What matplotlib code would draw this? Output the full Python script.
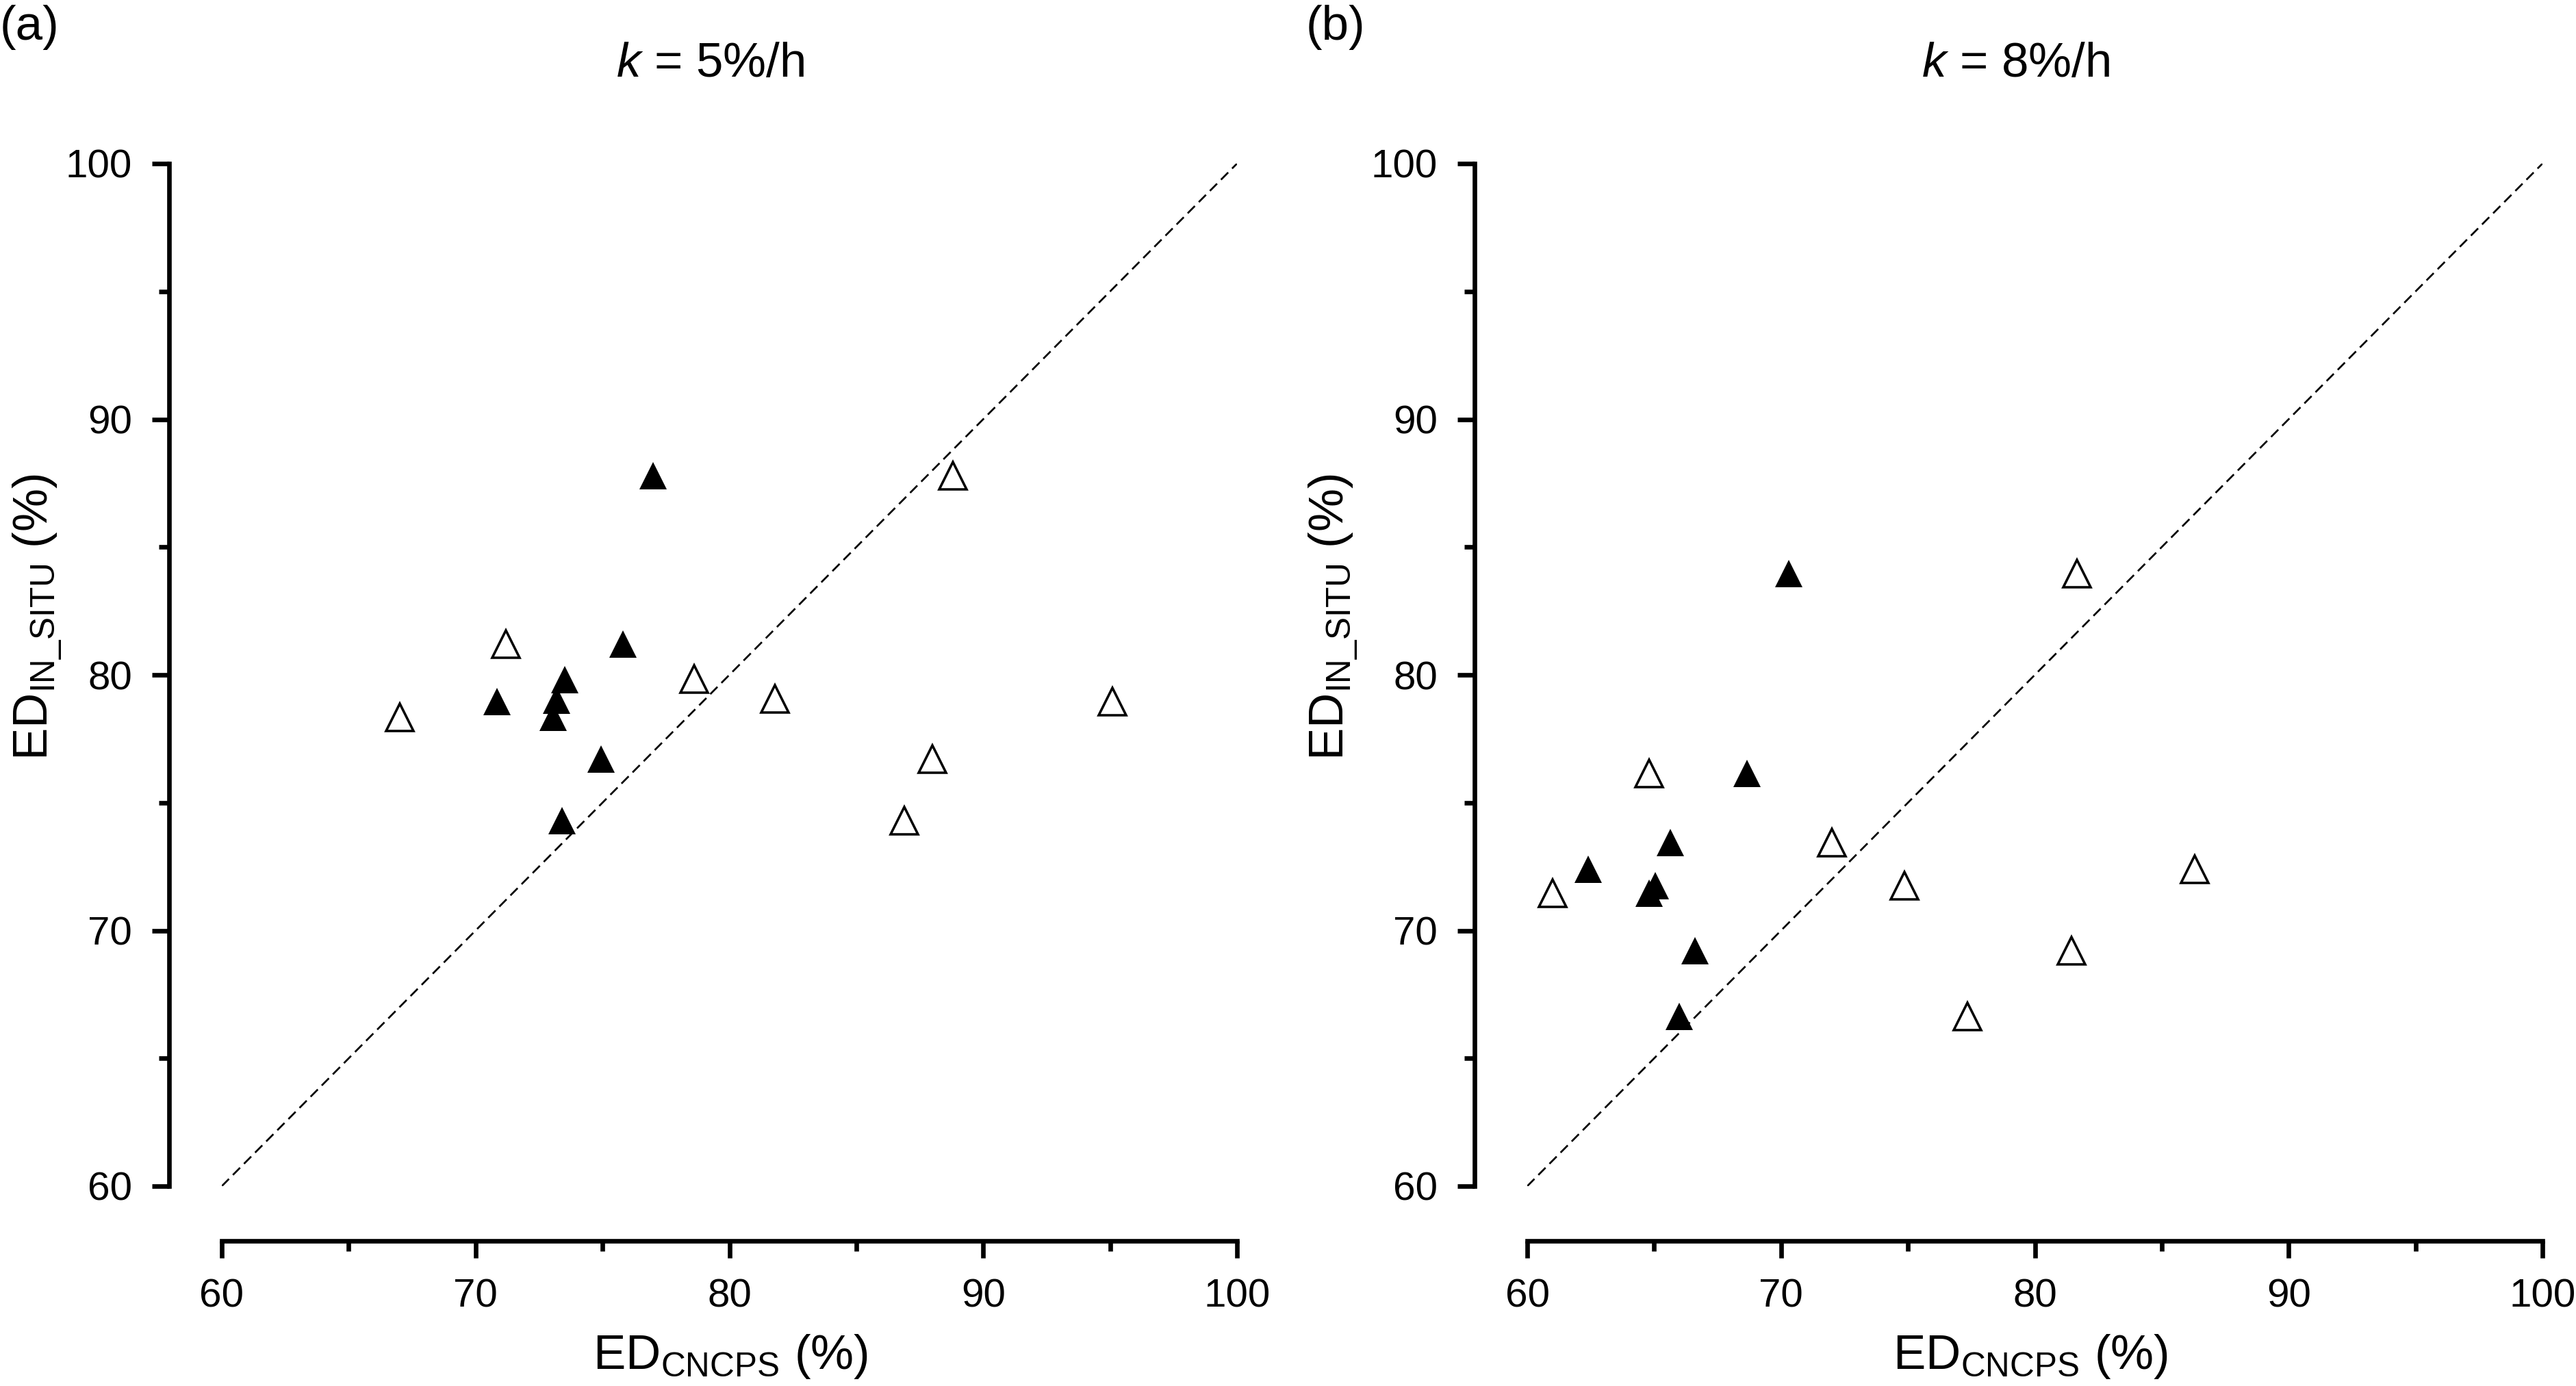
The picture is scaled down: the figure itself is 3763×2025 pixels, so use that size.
import matplotlib
matplotlib.use("Agg")
import matplotlib.pyplot as plt
from matplotlib.ticker import MultipleLocator

plt.rcParams['font.family'] = ['Liberation Sans', 'DejaVu Sans']
plt.rcParams['mathtext.fontset'] = 'custom'
plt.rcParams['mathtext.rm'] = 'Liberation Sans'
plt.rcParams['mathtext.it'] = 'Liberation Sans:italic'
plt.rcParams['mathtext.bf'] = 'Liberation Sans:bold'

# ---- data: panel (a) k = 5%/h ----
a_filled_x = [77.0, 75.8, 73.5, 70.85, 73.2, 73.05, 74.95, 73.4]
a_filled_y = [87.8, 81.2, 79.8, 78.95, 79.0, 78.35, 76.7, 74.3]
a_open_x = [88.8, 71.2, 78.6, 81.8, 95.1, 67.0, 88.0, 86.9]
a_open_y = [87.8, 81.2, 79.85, 79.05, 78.95, 78.35, 76.7, 74.3]

# ---- data: panel (b) k = 8%/h ----
b_filled_x = [70.3, 68.65, 65.65, 62.4, 65.05, 64.8, 66.6, 66.0]
b_filled_y = [83.95, 76.15, 73.45, 72.4, 71.75, 71.45, 69.2, 66.65]
b_open_x = [81.65, 64.8, 72.0, 86.3, 74.85, 61.0, 81.45, 77.35]
b_open_y = [83.95, 76.15, 73.45, 72.4, 71.75, 71.45, 69.2, 66.65]

identity = [60, 100]
ticks = [60, 70, 80, 90, 100]
tick_labels = ['60', '70', '80', '90', '100']

panels = [
    ('(a)', r'$k$ = 5%/h', a_filled_x, a_filled_y, a_open_x, a_open_y),
    ('(b)', r'$k$ = 8%/h', b_filled_x, b_filled_y, b_open_x, b_open_y),
]

W, H = 3763, 2025
fig = plt.figure(figsize=(W / 300, H / 300), dpi=300)

ax_lefts = [324 / W, 2231 / W]
ax_w = 1483 / W
ax_b = 1 - 1733 / H
ax_h = (1733 - 239) / H

panel_lbl_x = [0.0, 1908 / W]
title_x = [1037.5 / W, 2945 / W]
ylab_x = [55 / W, 1948 / W]
xlab_x = [1067 / W, 2966 / W]

for i, (plab, title, fx, fy, ox, oy) in enumerate(panels):
    ax = fig.add_axes([ax_lefts[i], ax_b, ax_w, ax_h])
    ax.plot(identity, identity, color='black', lw=0.65, dashes=(5.5, 3))
    ax.plot(ox, oy, linestyle='none', marker='^', ms=9.4, mfc='white',
            mec='black', mew=0.85)
    ax.plot(fx, fy, linestyle='none', marker='^', ms=9.6, mfc='black',
            mec='black', mew=0)
    ax.set_xlim(60, 100)
    ax.set_ylim(60, 100)
    for s in ['top', 'right']:
        ax.spines[s].set_visible(False)
    ax.spines['left'].set_position(('outward', 18.5))
    ax.spines['bottom'].set_position(('outward', 19.3))
    ax.spines['left'].set_bounds(60, 100)
    ax.spines['bottom'].set_bounds(60, 100)
    for s in ['left', 'bottom']:
        ax.spines[s].set_linewidth(1.6)
    ax.set_xticks(ticks)
    ax.set_xticklabels(tick_labels)
    ax.set_yticks(ticks)
    ax.set_yticklabels(tick_labels)
    ax.xaxis.set_minor_locator(MultipleLocator(5))
    ax.yaxis.set_minor_locator(MultipleLocator(5))
    ax.tick_params(which='major', direction='out', length=6, width=1.6,
                   labelsize=14, pad=7)
    ax.tick_params(which='minor', direction='out', length=3.6, width=1.6)
    ax.patch.set_alpha(0)

    fig.text(panel_lbl_x[i], 1 - 7 / H, plab, ha='left', va='top', fontsize=17)
    fig.text(title_x[i], 1 - 94 / H, title, ha='center', va='center', fontsize=17)
    fig.text(xlab_x[i], 1 - 1982 / H, r'ED$_{\mathrm{CNCPS}}$ (%)',
             ha='center', va='center', fontsize=17)
    fig.text(ylab_x[i], 1 - 902 / H, r'ED$_{\mathrm{IN\_SITU}}$ (%)',
             ha='center', va='center', rotation=90, fontsize=17)

fig.savefig('out.png', dpi=300, facecolor='white')
